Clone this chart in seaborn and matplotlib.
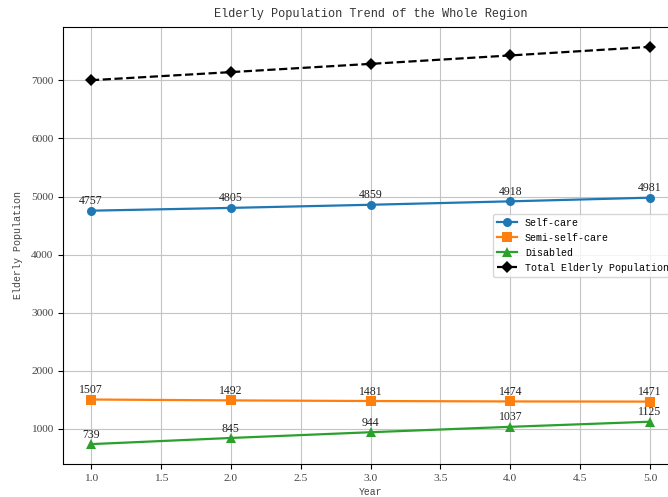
import matplotlib
matplotlib.use("Agg")
import matplotlib.pyplot as plt
import seaborn as sns
import pandas as pd

years = [1, 2, 3, 4, 5]
self_care = [4757, 4805, 4859, 4918, 4981]
semi_self_care = [1507, 1492, 1481, 1474, 1471]
disabled = [739, 845, 944, 1037, 1125]
total = [a + b + c for a, b, c in zip(self_care, semi_self_care, disabled)]

series_names = ["Self-care", "Semi-self-care", "Disabled", "Total Elderly Population"]
series_values = [self_care, semi_self_care, disabled, total]
colors = ["#1f77b4", "#ff7f0e", "#2ca02c", "black"]
markers = ["o", "s", "^", "D"]
styles = ["-", "-", "-", "--"]

MONO = ["Liberation Mono", "DejaVu Sans Mono"]
SERIF = ["Liberation Serif", "DejaVu Serif"]

fig = plt.figure(figsize=(6.68, 4.97), dpi=100)
ax = fig.add_axes([0.0943, 0.0664, 0.9207, 0.8793])

for name, vals, col, mk, ls in zip(series_names, series_values, colors, markers, styles):
    df = pd.DataFrame({"Year": years, "Value": vals})
    sns.lineplot(data=df, x="Year", y="Value", ax=ax, color=col, marker=mk,
                 linestyle=ls, linewidth=1.6, markersize=6.5, markeredgewidth=0,
                 label=name)
    if name != "Total Elderly Population":
        for xv, yv in zip(years, vals):
            ax.annotate(str(yv), (xv, yv), xytext=(0, 2.5), textcoords="offset points",
                        ha="center", va="bottom", fontsize=8.5, family=SERIF, color="#222222")

ax.set_yticks([1000, 2000, 3000, 4000, 5000, 6000, 7000])
ax.grid(True, color="#c4c4c4", linewidth=0.8)
ax.set_axisbelow(True)
for lab in ax.get_xticklabels() + ax.get_yticklabels():
    lab.set_family(SERIF)
    lab.set_fontsize(8.2)
    lab.set_color("#444444")
ax.set_title("Elderly Population Trend of the Whole Region", family=MONO, fontsize=8.6,
             color="#333333", pad=7)
ax.set_xlabel("Year", family=MONO, fontsize=7, color="#444444", labelpad=3)
ax.set_ylabel("Elderly Population", family=MONO, fontsize=7.2, color="#444444", labelpad=6)
leg = ax.legend(loc="center right", prop={"family": MONO, "size": 7.2})

fig.savefig("out.png", dpi=100)
